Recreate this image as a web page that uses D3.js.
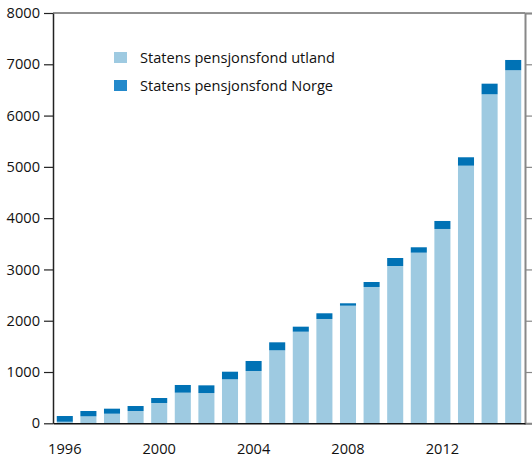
<!DOCTYPE html>
<html>
<head>
<meta charset="utf-8">
<script src="https://cdn.jsdelivr.net/npm/d3@7"></script>
<style>
  body { margin: 0; background: #fff; }
  svg { display: block; font-family: "Open Sans", sans-serif; }
</style>
</head>
<body>
<div id="chart"></div>
<script>
// data, milliarder kroner
const years = d3.range(1996, 2016);
const utland = [30, 136, 187, 240, 396, 597, 590, 858, 1020, 1423, 1786, 2034, 2293, 2658, 3067, 3327, 3789, 5023, 6415, 6884];
const norge = [112, 104, 98, 97, 97, 150, 150, 148, 195, 156, 98, 111, 47, 97, 156, 105, 156, 164, 207, 200];
const seriesNames = ["Statens pensjonsfond utland", "Statens pensjonsfond Norge"];
const yTicks = [0, 1000, 2000, 3000, 4000, 5000, 6000, 7000, 8000];
const xLabels = [1996, 2000, 2004, 2008, 2012];

const W = 532, H = 457;
const plotLeft = 53, plotRight = 525, plotTop = 13, plotBottom = 423.3;
const fontSize = "14.6px";

const svg = d3.select("#chart").append("svg")
  .attr("width", W)
  .attr("height", H);

const x = d3.scaleBand().domain(years).range([plotLeft, plotRight]).paddingInner(0.32).paddingOuter(0.16);
const y = d3.scaleLinear().domain([0, 8000]).range([plotBottom, plotTop]);

const rows = years.map((yr, i) => ({ year: yr, utland: utland[i], norge: norge[i] }));
const stack = d3.stack().keys(["utland", "norge"])(rows);
const colors = ["#9ecae1", "#0072b5"];
const legendColors = ["#9ecae1", "#2389cb"];

// bars
svg.selectAll(".layer")
  .data(stack)
  .join("g")
  .attr("class", "layer")
  .attr("fill", (d, i) => colors[i])
  .selectAll("rect")
  .data(d => d)
  .join("rect")
  .attr("x", d => x(d.data.year))
  .attr("width", x.bandwidth())
  .attr("y", d => y(d[1]))
  .attr("height", d => y(d[0]) - y(d[1]));

// top frame line
svg.append("line")
  .attr("x1", plotLeft).attr("x2", plotRight)
  .attr("y1", plotTop).attr("y2", plotTop)
  .attr("stroke", "#222").attr("stroke-width", 1.2);

// right axis (grey, no labels)
const yRight = svg.append("g")
  .attr("transform", `translate(${plotRight},0)`)
  .call(d3.axisRight(y).tickValues(yTicks).tickSize(7).tickFormat(""));
yRight.select(".domain").attr("stroke", "#888").attr("stroke-width", 2);
yRight.selectAll(".tick line").attr("stroke", "#888").attr("stroke-width", 1.2);

// left axis
const yLeft = svg.append("g")
  .attr("transform", `translate(${plotLeft},0)`)
  .call(d3.axisLeft(y).tickValues(yTicks).tickSize(9).tickPadding(4).tickSizeOuter(0).tickFormat(d3.format("d")));
yLeft.select(".domain").attr("stroke", "#222").attr("stroke-width", 1.5);
yLeft.selectAll(".tick line").attr("stroke", "#222").attr("stroke-width", 1.2);
yLeft.selectAll("text")
  .attr("font-size", fontSize)
  .attr("fill", "#111")
  .attr("font-family", "Open Sans");

// x axis
const xAxis = svg.append("g")
  .attr("transform", `translate(0,${plotBottom})`)
  .call(d3.axisBottom(x).tickValues(xLabels).tickSize(0).tickPadding(20).tickSizeOuter(0));
xAxis.select(".domain").attr("stroke", "#111").attr("stroke-width", 1.5);
xAxis.selectAll("text")
  .attr("font-size", fontSize)
  .attr("fill", "#111")
  .attr("font-family", "Open Sans");

// legend
const legend = svg.append("g").attr("transform", "translate(114,52)");
seriesNames.forEach((name, i) => {
  const g = legend.append("g").attr("transform", `translate(0,${i * 28})`);
  g.append("rect").attr("width", 13).attr("height", 11).attr("fill", legendColors[i]);
  g.append("text")
    .attr("x", 26).attr("y", 5.5)
    .attr("dy", "0.35em")
    .attr("font-size", fontSize)
    .attr("fill", "#111")
    .text(name);
});
</script>
</body>
</html>
